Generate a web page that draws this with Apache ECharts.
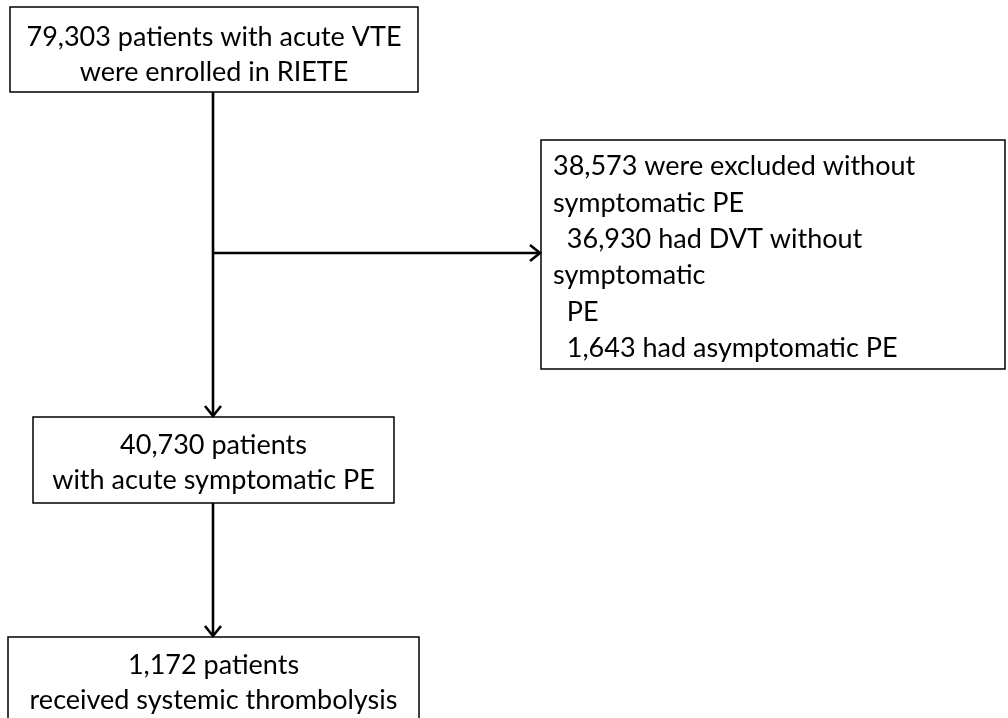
<!DOCTYPE html>
<html>
<head>
<meta charset="utf-8">
<script src="https://cdn.jsdelivr.net/npm/echarts@6/dist/echarts.min.js"></script>
<style>
  html, body { margin: 0; background: #fff; }
  #main { width: 1008px; height: 718px; }
</style>
</head>
<body>
<div id="main"></div>
<script>
  // text of each box, line by line
  const boxLines = [
    ['79,303 patients with acute VTE', 'were enrolled in RIETE'],
    ['38,573 were excluded without', 'symptomatic PE', '  36,930 had DVT without', 'symptomatic', '  PE', '  1,643 had asymptomatic PE'],
    ['40,730 patients', 'with acute symptomatic PE'],
    ['1,172 patients', 'received systemic thrombolysis']
  ];
  const boxAlign = ['center', 'left', 'center', 'center'];
  // box corners in axis units: x0, y0, x1, y1
  const boxRect = [
    [10, 7, 418, 92],
    [541, 140, 1005, 369],
    [33, 417, 394, 503],
    [8, 637, 419, 735]
  ];
  // arrows: from (x0,y0) to (x1,y1)
  const arrows = [
    [213, 92, 213, 417],
    [213, 253, 541, 253],
    [213, 503, 213, 637]
  ];

  let chart = echarts.init(document.getElementById('main'));
  const font = 'Lato';
  const fontSize = 27;

  let option = {
    animation: false,
    grid: { left: 0, right: 0, top: 0, bottom: 0 },
    xAxis: { type: 'value', min: 0, max: 1008, show: false },
    yAxis: { type: 'value', min: 0, max: 718, inverse: true, show: false },
    series: [
      {
        type: 'custom',
        data: boxRect.map(function (r, i) { return [r[0], r[1], r[2], r[3], i]; }),
        renderItem: function (params, api) {
          let i = params.dataIndex;
          let p0 = api.coord([api.value(0), api.value(1)]);
          let p1 = api.coord([api.value(2), api.value(3)]);
          let lines = boxLines[i];
          let lh = boxAlign[i] == 'left' ? 36.4 : 35;
          let children = [{
            type: 'rect',
            shape: { x: p0[0], y: p0[1], width: p1[0] - p0[0], height: p1[1] - p0[1] },
            style: { fill: '#fff', stroke: '#000', lineWidth: 1.5 }
          }];
          let cy = (p0[1] + p1[1]) / 2 + 3;
          if (i == 0) cy += 2;
          if (i == 3) cy = p0[1] + 46; // bottom box is cut off by the page
          let top = cy - lh * lines.length / 2 + lh / 2;
          for (let k = 0; k < lines.length; k++) {
            children.push({
              type: 'text',
              style: {
                text: lines[k],
                x: boxAlign[i] == 'left' ? p0[0] + 12 : (p0[0] + p1[0]) / 2,
                y: top + k * lh,
                align: boxAlign[i],
                verticalAlign: 'middle',
                fontFamily: font,
                fontSize: fontSize,
                fill: '#000'
              }
            });
          }
          return { type: 'group', children: children };
        }
      },
      {
        type: 'custom',
        data: arrows,
        renderItem: function (params, api) {
          let a = api.coord([api.value(0), api.value(1)]);
          let b = api.coord([api.value(2), api.value(3)]);
          let dx = b[0] - a[0], dy = b[1] - a[1];
          let len = Math.sqrt(dx * dx + dy * dy);
          let ux = dx / len, uy = dy / len;
          let hl = 11, hw = 8;
          let head = [
            [b[0] - ux * hl - uy * hw, b[1] - uy * hl + ux * hw],
            [b[0] - 1 * ux, b[1] - 1 * uy],
            [b[0] - ux * hl + uy * hw, b[1] - uy * hl - ux * hw]
          ];
          return {
            type: 'group',
            children: [
              { type: 'line', shape: { x1: a[0], y1: a[1], x2: b[0] - ux * 2, y2: b[1] - uy * 2 },
                style: { stroke: '#000', lineWidth: 2.6 } },
              { type: 'polyline', shape: { points: head },
                style: { stroke: '#000', lineWidth: 2.6, fill: null } }
            ]
          };
        }
      }
    ]
  };
  chart.setOption(option);
  window.onresize = function () {
    chart.resize();
  };
</script>
</body>
</html>
